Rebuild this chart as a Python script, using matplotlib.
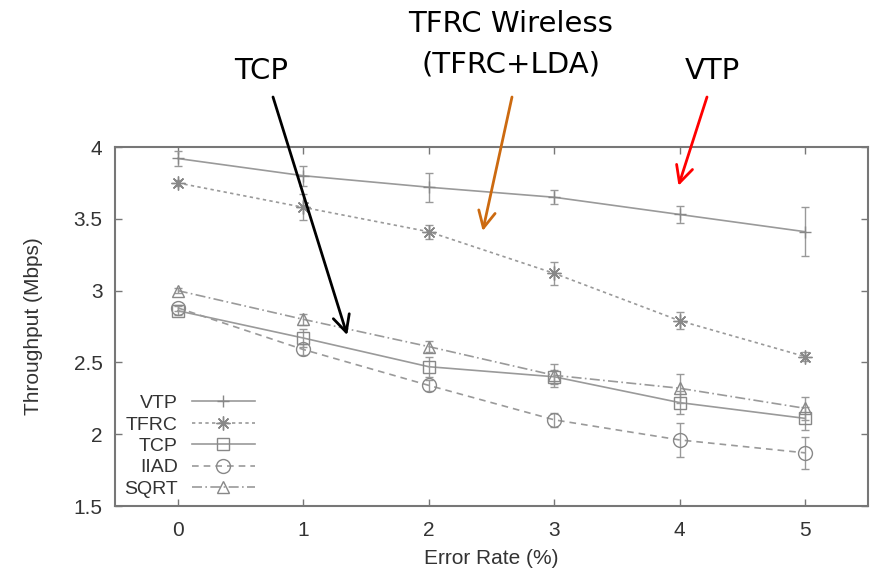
import matplotlib
matplotlib.use("Agg")
import matplotlib.pyplot as plt

error_rate = [0, 1, 2, 3, 4, 5]

vtp = [3.92, 3.80, 3.72, 3.65, 3.53, 3.41]
vtp_err = [0.05, 0.07, 0.10, 0.05, 0.06, 0.17]
tfrc = [3.75, 3.58, 3.41, 3.12, 2.79, 2.54]
tfrc_err = [0.02, 0.09, 0.05, 0.08, 0.06, 0.03]
tcp = [2.86, 2.67, 2.47, 2.40, 2.22, 2.11]
tcp_err = [0.03, 0.06, 0.07, 0.05, 0.08, 0.08]
iiad = [2.88, 2.59, 2.34, 2.10, 1.96, 1.87]
iiad_err = [0.02, 0.04, 0.04, 0.05, 0.12, 0.11]
sqrt_ = [3.00, 2.80, 2.61, 2.41, 2.32, 2.18]
sqrt_err = [0.02, 0.04, 0.04, 0.08, 0.10, 0.08]

series_names = ["VTP", "TFRC", "TCP", "IIAD", "SQRT"]

plt.rcParams['font.family'] = ['Liberation Sans', 'DejaVu Sans']

fig = plt.figure(figsize=(8.73, 5.73), dpi=100)
ax = fig.add_axes([115/873, 1-506/573, (868-115)/873, (506-147)/573])

line_c = '#9a9a9a'
styles = [
    (vtp, vtp_err, '-', '+', 9),
    (tfrc, tfrc_err, (0, (2, 2)), (8, 2, 0), 10),
    (tcp, tcp_err, '-', 's', 9),
    (iiad, iiad_err, (0, (4, 3)), 'o', 10),
    (sqrt_, sqrt_err, (0, (6, 2, 1, 2)), '^', 8),
]
handles = []
for (vals, errs, ls, mk, ms), name in zip(styles, series_names):
    cont = ax.errorbar(error_rate, vals, yerr=errs, color=line_c, ls=ls, lw=1.2,
                       marker=mk, ms=ms, mfc='none', mec='#888888', mew=1.0,
                       ecolor='#999999', elinewidth=1.0, capsize=3, label=name)
    handles.append(cont.lines[0])

ax.set_xlim(-0.5, 5.5)
ax.set_ylim(1.5, 4.0)
ax.set_xticks(error_rate)
ax.set_yticks([1.5, 2, 2.5, 3, 3.5, 4])
ax.set_yticklabels(['1.5', '2', '2.5', '3', '3.5', '4'])
ax.tick_params(direction='in', length=5, width=1, colors='#777777',
               labelcolor='#333333', labelsize=15, top=True, right=True)
ax.tick_params(axis='y', pad=9)
ax.tick_params(axis='x', pad=11)
for s in ax.spines.values():
    s.set_color('#777777')
    s.set_linewidth(1.5)

ax.set_xlabel('Error Rate (%)', fontsize=15, color='#333333', labelpad=6)
ax.set_ylabel('Throughput (Mbps)', fontsize=15, color='#333333', labelpad=22)

leg = ax.legend(handles=handles, labels=series_names, loc='lower right',
                markerfirst=False, frameon=False,
                fontsize=14, labelspacing=0.2, handlelength=3.25,
                handletextpad=0.72, borderaxespad=0, borderpad=0,
                bbox_to_anchor=((255-115)/753, (506-498)/359))
for t in leg.get_texts():
    t.set_color('#333333')

# Annotations
fs = 21
fig.text(261/873, 1-71/573, 'TCP', fontsize=fs, ha='center', va='center',
         family=['DejaVu Sans'])
fig.text(511/873, 1-24/573, 'TFRC Wireless', fontsize=fs, ha='center', va='center',
         family=['DejaVu Sans'])
fig.text(511/873, 1-64/573, '(TFRC+LDA)', fontsize=fs, ha='center', va='center',
         family=['DejaVu Sans'])
fig.text(712/873, 1-71/573, 'VTP', fontsize=fs, ha='center', va='center',
         family=['DejaVu Sans'])

arrows = [
    ((1.35, 2.69), (273, 573-97), 'black'),
    ((2.43, 3.415), (512, 573-97), '#cc6a10'),
    ((3.99, 3.73), (707, 573-97), '#ff0000'),
]
for tip, tail, col in arrows:
    ax.annotate('', xy=tip, xycoords='data', xytext=tail,
                textcoords='figure pixels',
                arrowprops=dict(arrowstyle='->', color=col, lw=2,
                                mutation_scale=30, shrinkA=0, shrinkB=0),
                annotation_clip=False)

fig.savefig('out.png', dpi=100)
